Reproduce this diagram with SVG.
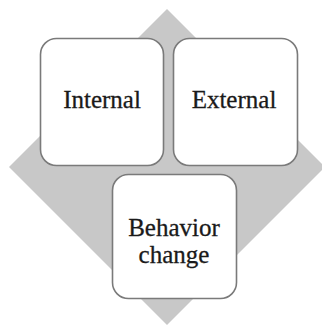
<svg xmlns="http://www.w3.org/2000/svg" width="322" height="325" viewBox="0 0 322 325">
<style>
.box{fill:#ffffff;stroke:#7a7a7a;stroke-width:1.6}
.lbl{font-family:"Liberation Serif","Times New Roman",serif;font-size:25px;fill:#1a1a1a;stroke:#1a1a1a;stroke-width:0.3;text-anchor:middle}
</style>
<rect width="322" height="325" fill="#ffffff"/>
<g id="background">
<polygon points="167,9 325,167 167,325 9,167" fill="#c8c8c8"/>
</g>
<g id="connectors"></g>
<g id="internal">
<rect class="box" x="40.5" y="38.5" width="123" height="127" rx="16"/>
<text class="lbl" x="102" y="108">Internal</text>
</g>
<g id="external">
<rect class="box" x="173.5" y="38.5" width="124" height="127" rx="16"/>
<text class="lbl" x="234" y="108">External</text>
</g>
<g id="behavior">
<rect class="box" x="112.5" y="174.5" width="124" height="124" rx="16"/>
<text class="lbl" x="174" y="236">Behavior</text>
<text class="lbl" x="174" y="263">change</text>
</g>
</svg>
